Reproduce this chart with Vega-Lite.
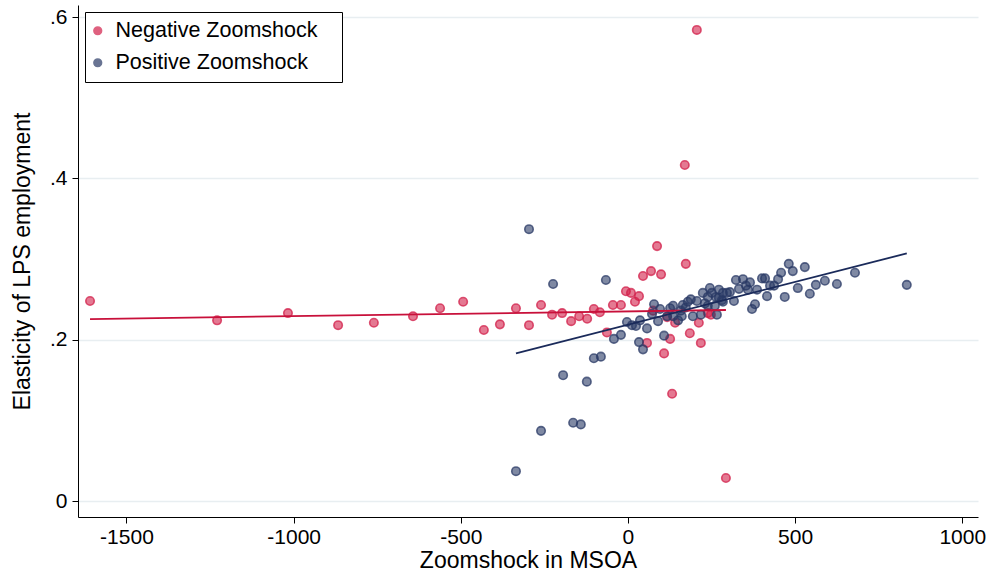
{
  "$schema": "https://vega.github.io/schema/vega-lite/v6.json",
  "width": 900,
  "height": 512,
  "autosize": "none",
  "padding": {"left": 78, "top": 5, "right": 12, "bottom": 54},
  "background": "white",
  "config": {
    "font": "Liberation Sans",
    "view": {"stroke": null},
    "axis": {"labelFont": "Liberation Sans", "titleFont": "Liberation Sans", "titleFontWeight": "normal"}
  },
  "datasets": {
    "pts": [
      {"shock": -1609, "elas": 0.248, "group": "Negative Zoomshock"},
      {"shock": -1229, "elas": 0.224, "group": "Negative Zoomshock"},
      {"shock": -1017, "elas": 0.233, "group": "Negative Zoomshock"},
      {"shock": -867, "elas": 0.218, "group": "Negative Zoomshock"},
      {"shock": -760, "elas": 0.221, "group": "Negative Zoomshock"},
      {"shock": -643, "elas": 0.229, "group": "Negative Zoomshock"},
      {"shock": -562, "elas": 0.239, "group": "Negative Zoomshock"},
      {"shock": -493, "elas": 0.247, "group": "Negative Zoomshock"},
      {"shock": -431, "elas": 0.212, "group": "Negative Zoomshock"},
      {"shock": -383, "elas": 0.219, "group": "Negative Zoomshock"},
      {"shock": -335, "elas": 0.239, "group": "Negative Zoomshock"},
      {"shock": -296, "elas": 0.218, "group": "Negative Zoomshock"},
      {"shock": -260, "elas": 0.243, "group": "Negative Zoomshock"},
      {"shock": -227, "elas": 0.231, "group": "Negative Zoomshock"},
      {"shock": -197, "elas": 0.233, "group": "Negative Zoomshock"},
      {"shock": -170, "elas": 0.223, "group": "Negative Zoomshock"},
      {"shock": -146, "elas": 0.229, "group": "Negative Zoomshock"},
      {"shock": -122, "elas": 0.226, "group": "Negative Zoomshock"},
      {"shock": -102, "elas": 0.238, "group": "Negative Zoomshock"},
      {"shock": -84, "elas": 0.234, "group": "Negative Zoomshock"},
      {"shock": -63, "elas": 0.209, "group": "Negative Zoomshock"},
      {"shock": -45, "elas": 0.243, "group": "Negative Zoomshock"},
      {"shock": -21, "elas": 0.243, "group": "Negative Zoomshock"},
      {"shock": -6, "elas": 0.260, "group": "Negative Zoomshock"},
      {"shock": 9, "elas": 0.258, "group": "Negative Zoomshock"},
      {"shock": 21, "elas": 0.247, "group": "Negative Zoomshock"},
      {"shock": 33, "elas": 0.254, "group": "Negative Zoomshock"},
      {"shock": 45, "elas": 0.279, "group": "Negative Zoomshock"},
      {"shock": 69, "elas": 0.285, "group": "Negative Zoomshock"},
      {"shock": 87, "elas": 0.316, "group": "Negative Zoomshock"},
      {"shock": 99, "elas": 0.281, "group": "Negative Zoomshock"},
      {"shock": 173, "elas": 0.294, "group": "Negative Zoomshock"},
      {"shock": 170, "elas": 0.4165, "group": "Negative Zoomshock"},
      {"shock": 206, "elas": 0.584, "group": "Negative Zoomshock"},
      {"shock": 293, "elas": 0.0285, "group": "Negative Zoomshock"},
      {"shock": 57, "elas": 0.196, "group": "Negative Zoomshock"},
      {"shock": 108, "elas": 0.183, "group": "Negative Zoomshock"},
      {"shock": 126, "elas": 0.201, "group": "Negative Zoomshock"},
      {"shock": 132, "elas": 0.133, "group": "Negative Zoomshock"},
      {"shock": 185, "elas": 0.208, "group": "Negative Zoomshock"},
      {"shock": 212, "elas": 0.221, "group": "Negative Zoomshock"},
      {"shock": 218, "elas": 0.196, "group": "Negative Zoomshock"},
      {"shock": 75, "elas": 0.236, "group": "Negative Zoomshock"},
      {"shock": 117, "elas": 0.228, "group": "Negative Zoomshock"},
      {"shock": 141, "elas": 0.221, "group": "Negative Zoomshock"},
      {"shock": 239, "elas": 0.233, "group": "Negative Zoomshock"},
      {"shock": 248, "elas": 0.231, "group": "Negative Zoomshock"},
      {"shock": -296, "elas": 0.337, "group": "Positive Zoomshock"},
      {"shock": -224, "elas": 0.269, "group": "Positive Zoomshock"},
      {"shock": -66, "elas": 0.274, "group": "Positive Zoomshock"},
      {"shock": -335, "elas": 0.037, "group": "Positive Zoomshock"},
      {"shock": -260, "elas": 0.087, "group": "Positive Zoomshock"},
      {"shock": -194, "elas": 0.156, "group": "Positive Zoomshock"},
      {"shock": -164, "elas": 0.097, "group": "Positive Zoomshock"},
      {"shock": -141, "elas": 0.095, "group": "Positive Zoomshock"},
      {"shock": -123, "elas": 0.148, "group": "Positive Zoomshock"},
      {"shock": -102, "elas": 0.177, "group": "Positive Zoomshock"},
      {"shock": -81, "elas": 0.179, "group": "Positive Zoomshock"},
      {"shock": -42, "elas": 0.201, "group": "Positive Zoomshock"},
      {"shock": -21, "elas": 0.206, "group": "Positive Zoomshock"},
      {"shock": -3, "elas": 0.222, "group": "Positive Zoomshock"},
      {"shock": 12, "elas": 0.218, "group": "Positive Zoomshock"},
      {"shock": 24, "elas": 0.217, "group": "Positive Zoomshock"},
      {"shock": 57, "elas": 0.214, "group": "Positive Zoomshock"},
      {"shock": 33, "elas": 0.197, "group": "Positive Zoomshock"},
      {"shock": 45, "elas": 0.188, "group": "Positive Zoomshock"},
      {"shock": 78, "elas": 0.244, "group": "Positive Zoomshock"},
      {"shock": 90, "elas": 0.223, "group": "Positive Zoomshock"},
      {"shock": 72, "elas": 0.232, "group": "Positive Zoomshock"},
      {"shock": 96, "elas": 0.238, "group": "Positive Zoomshock"},
      {"shock": 108, "elas": 0.205, "group": "Positive Zoomshock"},
      {"shock": 117, "elas": 0.229, "group": "Positive Zoomshock"},
      {"shock": 135, "elas": 0.229, "group": "Positive Zoomshock"},
      {"shock": 126, "elas": 0.239, "group": "Positive Zoomshock"},
      {"shock": 135, "elas": 0.242, "group": "Positive Zoomshock"},
      {"shock": 150, "elas": 0.224, "group": "Positive Zoomshock"},
      {"shock": 158, "elas": 0.236, "group": "Positive Zoomshock"},
      {"shock": 164, "elas": 0.243, "group": "Positive Zoomshock"},
      {"shock": 161, "elas": 0.229, "group": "Positive Zoomshock"},
      {"shock": 173, "elas": 0.240, "group": "Positive Zoomshock"},
      {"shock": 179, "elas": 0.247, "group": "Positive Zoomshock"},
      {"shock": 188, "elas": 0.250, "group": "Positive Zoomshock"},
      {"shock": 194, "elas": 0.229, "group": "Positive Zoomshock"},
      {"shock": 206, "elas": 0.248, "group": "Positive Zoomshock"},
      {"shock": 218, "elas": 0.231, "group": "Positive Zoomshock"},
      {"shock": 224, "elas": 0.258, "group": "Positive Zoomshock"},
      {"shock": 230, "elas": 0.245, "group": "Positive Zoomshock"},
      {"shock": 239, "elas": 0.253, "group": "Positive Zoomshock"},
      {"shock": 245, "elas": 0.264, "group": "Positive Zoomshock"},
      {"shock": 251, "elas": 0.258, "group": "Positive Zoomshock"},
      {"shock": 263, "elas": 0.253, "group": "Positive Zoomshock"},
      {"shock": 266, "elas": 0.231, "group": "Positive Zoomshock"},
      {"shock": 272, "elas": 0.262, "group": "Positive Zoomshock"},
      {"shock": 281, "elas": 0.249, "group": "Positive Zoomshock"},
      {"shock": 284, "elas": 0.258, "group": "Positive Zoomshock"},
      {"shock": 296, "elas": 0.258, "group": "Positive Zoomshock"},
      {"shock": 305, "elas": 0.259, "group": "Positive Zoomshock"},
      {"shock": 317, "elas": 0.248, "group": "Positive Zoomshock"},
      {"shock": 323, "elas": 0.274, "group": "Positive Zoomshock"},
      {"shock": 332, "elas": 0.263, "group": "Positive Zoomshock"},
      {"shock": 344, "elas": 0.275, "group": "Positive Zoomshock"},
      {"shock": 353, "elas": 0.267, "group": "Positive Zoomshock"},
      {"shock": 359, "elas": 0.262, "group": "Positive Zoomshock"},
      {"shock": 365, "elas": 0.271, "group": "Positive Zoomshock"},
      {"shock": 371, "elas": 0.238, "group": "Positive Zoomshock"},
      {"shock": 380, "elas": 0.244, "group": "Positive Zoomshock"},
      {"shock": 386, "elas": 0.262, "group": "Positive Zoomshock"},
      {"shock": 401, "elas": 0.276, "group": "Positive Zoomshock"},
      {"shock": 410, "elas": 0.276, "group": "Positive Zoomshock"},
      {"shock": 416, "elas": 0.254, "group": "Positive Zoomshock"},
      {"shock": 425, "elas": 0.267, "group": "Positive Zoomshock"},
      {"shock": 437, "elas": 0.267, "group": "Positive Zoomshock"},
      {"shock": 449, "elas": 0.275, "group": "Positive Zoomshock"},
      {"shock": 458, "elas": 0.283, "group": "Positive Zoomshock"},
      {"shock": 469, "elas": 0.253, "group": "Positive Zoomshock"},
      {"shock": 481, "elas": 0.294, "group": "Positive Zoomshock"},
      {"shock": 493, "elas": 0.285, "group": "Positive Zoomshock"},
      {"shock": 508, "elas": 0.264, "group": "Positive Zoomshock"},
      {"shock": 529, "elas": 0.290, "group": "Positive Zoomshock"},
      {"shock": 544, "elas": 0.257, "group": "Positive Zoomshock"},
      {"shock": 562, "elas": 0.268, "group": "Positive Zoomshock"},
      {"shock": 589, "elas": 0.273, "group": "Positive Zoomshock"},
      {"shock": 625, "elas": 0.269, "group": "Positive Zoomshock"},
      {"shock": 679, "elas": 0.283, "group": "Positive Zoomshock"},
      {"shock": 834, "elas": 0.268, "group": "Positive Zoomshock"},
      {"shock": 36, "elas": 0.224, "group": "Positive Zoomshock"},
      {"shock": 272, "elas": 0.252, "group": "Positive Zoomshock"},
      {"shock": 284, "elas": 0.247, "group": "Positive Zoomshock"},
      {"shock": 239, "elas": 0.242, "group": "Positive Zoomshock"},
      {"shock": 260, "elas": 0.242, "group": "Positive Zoomshock"}
    ],
    "negfit": [
      {"shock": -1609, "fit": 0.2256},
      {"shock": 293, "fit": 0.2368}
    ],
    "posfit": [
      {"shock": -335, "fit": 0.183},
      {"shock": 834, "fit": 0.307}
    ]
  },
  "layer": [
    {
      "data": {"name": "pts"},
      "mark": {"type": "circle", "size": 72, "fillOpacity": 0.6, "strokeOpacity": 0.75, "strokeWidth": 1.6},
      "encoding": {
        "x": {
          "field": "shock", "type": "quantitative",
          "scale": {"domain": [-1645, 1047], "nice": false, "zero": false},
          "axis": {
            "values": [-1500, -1000, -500, 0, 500, 1000],
            "labelExpr": "datum.value + ''",
            "title": "Zoomshock in MSOA",
            "titleFontSize": 23, "titleColor": "black", "titlePadding": 2,
            "labelFontSize": 21, "labelColor": "black", "labelPadding": 3,
            "domainColor": "black", "domainWidth": 1, "tickColor": "black", "tickSize": 6,
            "grid": false
          }
        },
        "y": {
          "field": "elas", "type": "quantitative",
          "scale": {"domain": [-0.0198, 0.6149], "nice": false, "zero": false},
          "axis": {
            "values": [0, 0.2, 0.4, 0.6],
            "labelExpr": "datum.value == 0 ? '0' : replace(format(datum.value, '.1f'), '0.', '.')",
            "title": "Elasticity of LPS employment",
            "titleFontSize": 23, "titleColor": "black", "titlePadding": 15,
            "labelFontSize": 21, "labelColor": "black", "labelPadding": 5,
            "domainColor": "black", "domainWidth": 1, "tickColor": "black", "tickSize": 6,
            "grid": true, "gridColor": "#e8eef1", "gridWidth": 1.5
          }
        },
        "color": {
          "field": "group", "type": "nominal",
          "scale": {"domain": ["Negative Zoomshock", "Positive Zoomshock"], "range": ["#d21f4a", "#2a3a66"]},
          "legend": {
            "title": null, "orient": "none", "legendX": 7, "legendY": 7,
            "direction": "vertical",
            "strokeColor": "black", "fillColor": "white",
            "padding": 8, "rowPadding": 9,
            "labelFontSize": 21.5, "labelColor": "black", "labelFont": "Liberation Sans", "labelLimit": 0,
            "labelExpr": "datum.label + '\u2800'",
            "symbolSize": 60, "symbolOpacity": 0.7, "symbolOffset": -6, "labelOffset": 7
          }
        },
        "stroke": {
          "field": "group", "type": "nominal",
          "scale": {"domain": ["Negative Zoomshock", "Positive Zoomshock"], "range": ["#d21f4a", "#2a3a66"]}
        }
      }
    },
    {
      "data": {"name": "negfit"},
      "mark": {"type": "line", "color": "#c8103a", "strokeWidth": 1.8},
      "encoding": {
        "x": {"field": "shock", "type": "quantitative"},
        "y": {"field": "fit", "type": "quantitative"}
      }
    },
    {
      "data": {"name": "posfit"},
      "mark": {"type": "line", "color": "#1a2a5a", "strokeWidth": 1.8},
      "encoding": {
        "x": {"field": "shock", "type": "quantitative"},
        "y": {"field": "fit", "type": "quantitative"}
      }
    }
  ]
}
